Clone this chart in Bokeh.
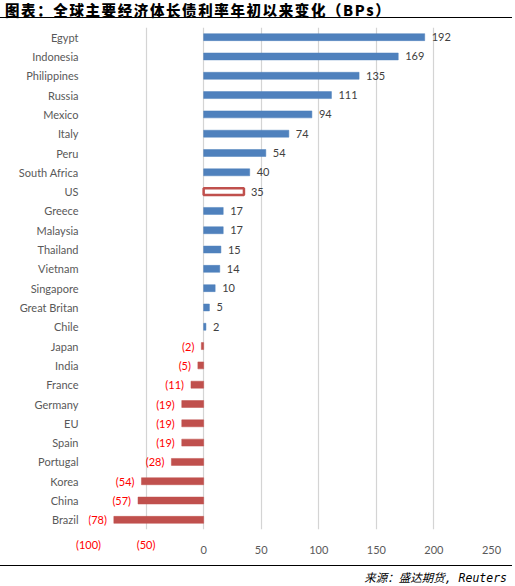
from bokeh.plotting import figure
from bokeh.models import (ColumnDataSource, FixedTicker, LinearAxis, Range1d,
                          FactorRange, Div)
from bokeh.layouts import column
from bokeh.embed import file_html
from bokeh.resources import INLINE
from bokeh.core.properties import value

# ---------------- data ----------------
title_text = "图表：全球主要经济体长债利率年初以来变化（BPs）"
source_text = "来源：盛达期货, Reuters"
countries = ["Egypt", "Indonesia", "Philippines", "Russia", "Mexico", "Italy",
             "Peru", "South Africa", "US", "Greece", "Malaysia", "Thailand",
             "Vietnam", "Singapore", "Great Britan", "Chile", "Japan", "India",
             "France", "Germany", "EU", "Spain", "Portugal", "Korea", "China",
             "Brazil"]
changes = [192, 169, 135, 111, 94, 74, 54, 40, 35, 17, 17, 15, 14, 10, 5, 2,
           -2, -5, -11, -19, -19, -19, -28, -54, -57, -78]
highlight = "US"
neg_ticks = [-100, -50]
pos_ticks = [0, 50, 100, 150, 200, 250]

BLUE = "#4F81BD"
RED = "#C0504D"
GRAY = "#595959"
FONT = "Lato"

def fmt(v):
    return str(v) if v >= 0 else "(%d)" % (-v)

fill = []
line = []
for c, v in zip(countries, changes):
    if c == highlight:
        fill.append("white"); line.append(RED)
    elif v >= 0:
        fill.append(BLUE); line.append(BLUE)
    else:
        fill.append(RED); line.append(RED)

src = ColumnDataSource(dict(c=countries, v=changes, fill=fill, line=line,
                            lw=[2.5 if c == highlight else 0.5 for c in countries]))
pos = ColumnDataSource(dict(c=[c for c, v in zip(countries, changes) if v >= 0],
                            v=[v for v in changes if v >= 0],
                            t=[fmt(v) for v in changes if v >= 0]))
neg = ColumnDataSource(dict(c=[c for c, v in zip(countries, changes) if v < 0],
                            v=[v for v in changes if v < 0],
                            t=[fmt(v) for v in changes if v < 0]))

p = figure(width=512, height=547, output_backend="svg", toolbar_location=None,
           y_range=FactorRange(factors=list(reversed(countries))),
           x_range=Range1d(-100, 250),
           min_border_left=88, min_border_right=21, min_border_top=9,
           min_border_bottom=36, margin=0)
p.outline_line_color = None
p.ygrid.grid_line_color = None
p.xgrid.ticker = FixedTicker(ticks=neg_ticks + pos_ticks)
p.xgrid.grid_line_color = "#D4D4D4"
p.xgrid.grid_line_width = 1.2

p.hbar(y="c", right="v", left=0, height=0.36, source=src,
       fill_color="fill", line_color="line", line_width="lw")

p.text(x="v", y="c", text="t", source=pos, x_offset=7, text_align="left",
       text_baseline="middle", text_color="#404040", text_font_size="11px",
       text_font=value(FONT))
p.text(x="v", y="c", text="t", source=neg, x_offset=-7, text_align="right",
       text_baseline="middle", text_color="#FF0000", text_font_size="11px",
       text_font=value(FONT))

# y axis
p.yaxis.axis_line_color = None
p.yaxis.major_tick_line_color = None
p.yaxis.minor_tick_line_color = None
p.yaxis.major_tick_out = 0
p.yaxis.major_tick_in = 0
p.yaxis.major_label_text_color = GRAY
p.yaxis.major_label_text_font_size = "11px"
p.yaxis.major_label_text_font = FONT
p.yaxis.major_label_standoff = 10

# x axis: negative labels (red)
xa = p.xaxis[0]
xa.ticker = FixedTicker(ticks=neg_ticks)
xa.major_label_overrides = {t: fmt(t) for t in neg_ticks}
xa.axis_line_color = None
xa.major_tick_line_color = None
xa.minor_tick_line_color = None
xa.major_tick_out = 0
xa.major_tick_in = 0
xa.major_label_text_color = "#FF0000"
xa.major_label_text_font_size = "11px"
xa.major_label_text_font = FONT
xa.major_label_standoff = 8

# x axis: non-negative labels (gray)
xb = LinearAxis(ticker=FixedTicker(ticks=pos_ticks))
xb.axis_line_color = None
xb.major_tick_line_color = None
xb.minor_tick_line_color = None
xb.major_tick_out = 0
xb.major_tick_in = 0
xb.major_label_text_color = GRAY
xb.major_label_text_font_size = "11px"
xb.major_label_text_font = FONT
xb.major_label_standoff = -8
p.add_layout(xb, "below")

title = Div(text=title_text, width=512, height=18, margin=0,
            styles={"font-family": "Noto Sans CJK SC", "font-weight": "900",
                    "font-size": "14.5px", "line-height": "12px", "color": "black",
                    "letter-spacing": "1.6px",
                    "border-bottom": "1.5px solid black", "padding": "4px 0 0 5px",
                    "white-space": "nowrap", "overflow": "visible"})
foot = Div(text=source_text, width=512, height=20, margin=0,
           styles={"font-family": "'DejaVu Sans Mono', 'Noto Sans CJK SC'",
                   "font-style": "italic",
                   "font-size": "11.5px", "line-height": "20px", "color": "black",
                   "border-top": "1.5px solid black", "text-align": "right",
                   "padding": "2px 5px 0 0", "white-space": "nowrap"})

layout = column(title, p, foot, spacing=0, margin=0)
open("out.html", "w").write(file_html(layout, INLINE))
